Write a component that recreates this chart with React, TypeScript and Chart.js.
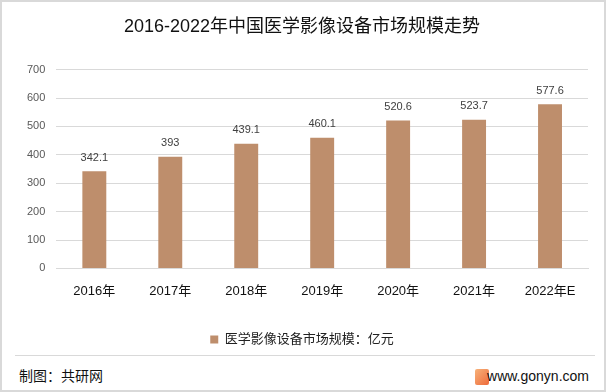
import React, { useEffect, useRef } from "react";
import { Chart, registerables } from "chart.js";

Chart.register(...registerables);

const categories = ["2016年", "2017年", "2018年", "2019年", "2020年", "2021年", "2022年E"];
const values = [342.1, 393, 439.1, 460.1, 520.6, 523.7, 577.6];
const valueLabels = ["342.1", "393", "439.1", "460.1", "520.6", "523.7", "577.6"];
const seriesName = "医学影像设备市场规模：亿元";
const titleText = "2016-2022年中国医学影像设备市场规模走势";

const FONT = "'Liberation Sans', 'Noto Sans CJK SC', sans-serif";
const BAR = "#BE8E6C";

const labelPlugin = {
  id: "valueLabels",
  afterDatasetsDraw(chart: any) {
    const ctx = chart.ctx;
    const meta = chart.getDatasetMeta(0);
    ctx.save();
    ctx.font = `11px ${FONT}`;
    ctx.fillStyle = "#404040";
    ctx.textAlign = "center";
    ctx.textBaseline = "bottom";
    meta.data.forEach((el: any, i: number) => {
      ctx.fillText(valueLabels[i], el.x, el.y - 8);
    });
    ctx.restore();
  },
};

export default function App() {
  const ref = useRef<HTMLCanvasElement | null>(null);
  useEffect(() => {
    document.body.style.margin = "0";
    const chart = new Chart(ref.current!, {
      type: "bar",
      data: {
        labels: categories,
        datasets: [
          {
            label: seriesName,
            data: values,
            backgroundColor: BAR,
            barPercentage: 0.63,
            categoryPercentage: 0.5,
          },
        ],
      },
      options: {
        animation: false,
        responsive: false,
        maintainAspectRatio: false,
        layout: { padding: { left: 14, right: 16, top: 0, bottom: 0 } },
        plugins: {
          title: {
            display: true,
            text: titleText,
            font: { family: FONT, size: 18, weight: "normal" },
            color: "#111",
            padding: { top: 14, bottom: 32 },
          },
          legend: {
            position: "bottom",
            labels: {
              boxWidth: 8,
              boxHeight: 8,
              font: { family: FONT, size: 13 },
              color: "#222",
              padding: 19,
            },
          },
          tooltip: { enabled: false },
        },
        scales: {
          x: {
            grid: { display: false, drawTicks: false },
            border: { color: "#d9d9d9" },
            ticks: { font: { family: FONT, size: 13 }, color: "#111", padding: 15 },
          },
          y: {
            min: 0,
            max: 700,
            grid: { color: "#d9d9d9", drawTicks: false },
            border: { display: false },
            ticks: { stepSize: 100, font: { family: FONT, size: 11 }, color: "#595959", padding: 11 },
          },
        },
      },
      plugins: [labelPlugin],
    });
    return () => chart.destroy();
  }, []);

  return (
    <div
      style={{
        position: "absolute",
        left: 0,
        top: 0,
        width: 606,
        height: 392,
        border: "2px solid #d9d9d9",
        boxSizing: "border-box",
        background: "#fff",
        overflow: "hidden",
      }}
    >
      <canvas ref={ref} width={602} height={354} style={{ position: "absolute", left: 0, top: 0 }} />
      <div
        style={{
          position: "absolute",
          left: 13,
          top: 353,
          width: 580,
          height: 1,
          background: "#d9d9d9",
        }}
      />
      <div
        style={{
          position: "absolute",
          left: 17,
          top: 364,
          fontFamily: FONT,
          fontSize: 14,
          color: "#111",
          lineHeight: "20px",
        }}
      >
        制图：共研网
      </div>
      <div
        style={{
          position: "absolute",
          left: 473,
          top: 367,
          width: 14,
          height: 16,
          borderRadius: 2,
          background: "linear-gradient(135deg, #f7b27a, #ee6b3b)",
        }}
      />
      <div
        style={{
          position: "absolute",
          right: 15,
          top: 364,
          fontFamily: FONT,
          fontSize: 14,
          color: "#111",
          lineHeight: "20px",
        }}
      >
        www.gonyn.com
      </div>
    </div>
  );
}
